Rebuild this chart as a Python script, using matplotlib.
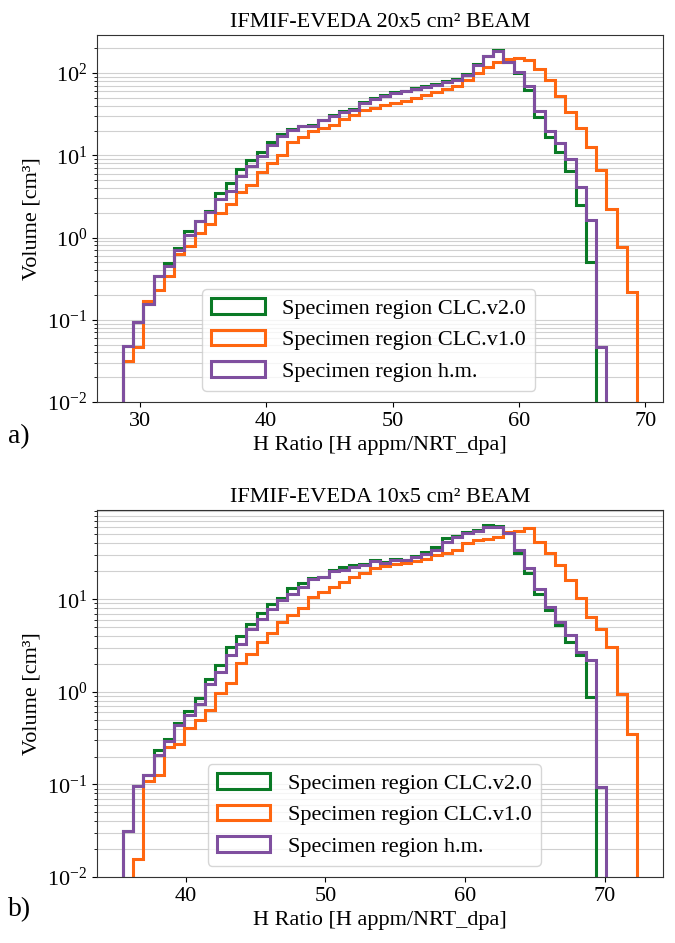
"""
IFMIF-EVEDA H ratio histograms (20x5 and 10x5 cm^2 beam), specimen region volumes.
"""
import numpy as np
import matplotlib
matplotlib.use("Agg")
import matplotlib.pyplot as plt

# ---------- data ----------
labels = ["Specimen region CLC.v2.0", "Specimen region CLC.v1.0", "Specimen region h.m."]
colors = ["#0a7a26", "#ff6610", "#7f4f9f"]

# 20x5 beam: 50 common bins
top_range = (28.67, 69.35)
top_v2 = [0.0476, 0.093, 0.157, 0.344, 0.491, 0.748, 1.19, 1.60, 2.08, 3.48,
          4.61, 6.82, 8.67, 10.96, 14.4, 18.3, 20.9, 22.5, 23.5, 27.0,
          30.5, 34.5, 37.0, 44.5, 49.5, 54.5, 58.0, 60.5, 65.0, 69.0,
          73.0, 79.0, 84.0, 96.0, 127, 160, 188, 138, 100, 61.5,
          28.9, 16.5, 11.1, 6.4, 2.51, 0.50, 0, 0, 0, 0]
top_v1 = [0.0313, 0.0469, 0.168, 0.228, 0.344, 0.637, 0.782, 1.14, 1.44, 1.99,
          2.58, 3.54, 4.31, 6.26, 8.06, 10.2, 14.4, 16.7, 19.5, 21.5,
          23.5, 27.6, 31.1, 35.8, 37.6, 41.2, 43.0, 46.0, 49.7, 54.5,
          58.1, 63.8, 70.1, 83.0, 100, 120, 135, 150, 152, 145,
          112, 83, 53, 34, 21.5, 12.6, 6.7, 2.24, 0.77, 0.218]
top_hm = [0.0476, 0.093, 0.157, 0.344, 0.447, 0.70, 1.08, 1.60, 2.02, 2.97,
          3.71, 5.65, 7.48, 9.89, 13.4, 17.0, 20.1, 22.5, 22.9, 26.5,
          29.7, 33.6, 35.8, 43.2, 48.3, 53.0, 57.1, 59.7, 63.8, 67.6,
          72.1, 76.9, 83.0, 95.0, 126, 159, 183, 135, 104, 70,
          34.8, 19.5, 14.1, 9.0, 4.12, 1.65, 0.047, 0, 0, 0]

# 10x5 beam
bot_range = (35.51, 72.30)
bot_v2 = [0.0313, 0.095, 0.125, 0.233, 0.312, 0.465, 0.615, 0.865, 1.39, 1.93,
          3.05, 3.98, 5.46, 7.18, 8.83, 10.4, 13.1, 15.0, 17.0, 17.5,
          20.5, 22.3, 23.3, 24.0, 26.2, 25.0, 27.1, 26.8, 29.0, 32.4,
          36.8, 45.3, 48.0, 53.5, 55.5, 63.1, 62.0, 52.5, 31.7, 19.3,
          11.5, 7.73, 5.24, 3.46, 2.48, 0.879, 0, 0, 0, 0]
bot_v1 = [0, 0.0157, 0.110, 0.125, 0.253, 0.270, 0.41, 0.492, 0.631, 0.98,
          1.24, 2.05, 2.59, 3.46, 4.32, 5.69, 6.71, 8.13, 10.6, 12.0,
          13.6, 15.4, 17.2, 19.2, 22.0, 22.7, 24.3, 24.7, 25.9, 27.5,
          29.9, 31.7, 34.4, 40.6, 43.5, 44.2, 47.2, 53.5, 54.8, 58.5,
          41.6, 31.2, 23.3, 16.3, 10.4, 6.44, 4.82, 3.05, 0.955, 0.348]
bot_hm = [0.0313, 0.095, 0.125, 0.206, 0.294, 0.434, 0.557, 0.745, 1.22, 1.64,
          2.48, 3.26, 4.82, 6.18, 7.93, 9.75, 11.5, 13.6, 16.7, 17.2,
          20.1, 20.9, 22.3, 23.3, 25.9, 24.7, 26.4, 26.4, 28.6, 30.6,
          34.4, 41.6, 47.2, 51.3, 54.8, 60.6, 59.6, 51.3, 33.9, 21.5,
          13.0, 8.26, 5.69, 4.08, 2.70, 2.19, 0.0936, 0, 0, 0]

N_BINS = 50

plt.rcParams["font.family"] = ["Liberation Serif", "DejaVu Serif"]
plt.rcParams["mathtext.fontset"] = "stix"
plt.rcParams["font.size"] = 16


def panel(ax, rng, series, title, ytop, leg_x):
    edges = np.linspace(rng[0], rng[1], N_BINS + 1)
    centers = 0.5 * (edges[:-1] + edges[1:])
    for vals, c, lab in zip(series, colors, labels):
        ax.hist(centers, bins=edges, weights=vals, histtype="step", log=True,
                color=c, lw=2.2, label=lab)
    ax.set_ylim(1e-2, ytop)
    ax.set_title(title, fontsize=16)
    ax.set_xlabel("H Ratio [H appm/NRT_dpa]", fontsize=16)
    ax.set_ylabel("Volume [cm³]", fontsize=16)
    ax.grid(True, which="both", axis="y", color="#d0d0d0", lw=0.8)
    ax.set_axisbelow(True)
    ax.tick_params(labelsize=16)
    for s in ax.spines.values():
        s.set_color("#333333")
    ax.legend(loc="lower center", bbox_to_anchor=(leg_x, 0.0), fontsize=16,
              handlelength=2.4)


fig = plt.figure(figsize=(6.75, 9.43), dpi=100)
ax1 = fig.add_axes([0.1437, 0.5737, 0.8385, 0.3892])
ax2 = fig.add_axes([0.1437, 0.0700, 0.8385, 0.3892])

panel(ax1, top_range, [top_v2, top_v1, top_hm], "IFMIF-EVEDA 20x5 cm² BEAM", 290, 0.48)
panel(ax2, bot_range, [bot_v2, bot_v1, bot_hm], "IFMIF-EVEDA 10x5 cm² BEAM", 92, 0.49)

fig.text(0.012, 1 - 437 / 943, "a)", fontsize=20, va="center")
fig.text(0.012, 1 - 910 / 943, "b)", fontsize=20, va="center")

fig.savefig("out.png", dpi=100)
